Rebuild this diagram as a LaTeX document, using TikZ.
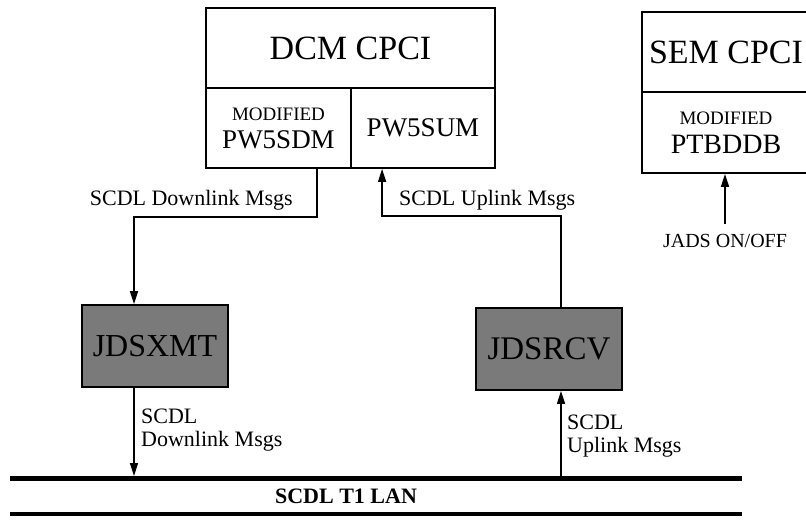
\documentclass[tikz,border=0pt]{standalone}
\usepackage{fontspec}
\setmainfont{Liberation Serif}
\usetikzlibrary{arrows.meta}
\newcommand{\fs}[1]{\fontsize{#1}{#1}\selectfont}
\begin{document}
\begin{tikzpicture}[x=1pt,y=-1pt,
  box/.style={draw,line width=1.8pt,rectangle,inner sep=0pt,align=center},
  grey/.style={box,fill=black!52},
  conn/.style={line width=1.4pt},
  arr/.style={conn,-{Triangle[length=13pt,width=8pt]}},
  bus/.style={line width=4.5pt},
  lbl/.style={inner sep=0pt,align=left}]
\useasboundingbox (0,0) rectangle (806,521);
% DCM CPCI
\node[box,minimum width=289pt,minimum height=80pt] (dcm) at (350.5,48) {\fs{34}DCM CPCI};
\node[box,minimum width=145pt,minimum height=80pt] (sdm) at (278.5,128)
  {{\fs{19}MODIFIED}\\[9pt]{\fs{27}PW5SDM}};
\node[box,minimum width=144pt,minimum height=80pt] (sum) at (423,128) {\fs{27}PW5SUM};
% SEM CPCI
\node[box,minimum width=168pt,minimum height=80pt] (sem) at (726,52) {\fs{34}SEM CPCI};
\node[box,minimum width=168pt,minimum height=81pt] (ptb) at (726,132.5)
  {{\fs{19}MODIFIED}\\[9pt]{\fs{28}PTBDDB}};
\node[lbl] (jads) at (725,241) {\fs{20}JADS ON/OFF};
\draw[arr] (jads.north -| 725,0) ++(0,-10) coordinate (jadsT) (jadsT) -- (ptb.south -| jadsT);
% grey boxes
\node[grey,minimum width=146pt,minimum height=82pt] (xmt) at (155,346) {\fs{32}JDSXMT};
\node[grey,minimum width=146pt,minimum height=82pt] (rcv) at (549,349) {\fs{33}JDSRCV};
% bus
\coordinate (busL) at (10,476);
\coordinate (busR) at (742,476);
\draw[bus] (10,478.5) -- (742,478.5);
\draw[bus] (10,514) -- (742,514);
\node[lbl,font=\bfseries] (lan) at (346,496) {\fs{22}SCDL T1 LAN};
% connectors
\draw[arr] ([xshift=-35pt]sdm.south east) -- ++(0,48) -| ([xshift=-21pt]xmt.north);
\draw[arr] ([xshift=12pt]rcv.north) -- ++(0,-91) -| ([xshift=32pt]sum.south west);
\draw[arr] ([xshift=-21pt]xmt.south) -- ([xshift=-21pt]xmt.south |- busL);
\draw[arr] ([xshift=12pt]rcv.south |- busL) -- ([xshift=12pt]rcv.south);
% labels
\node[lbl,anchor=east] (dl1) at (293,200) {\fs{22}SCDL Downlink Msgs};
\node[lbl,anchor=west] (ul1) at (399,200) {\fs{22}SCDL Uplink Msgs};
\node[lbl,anchor=west] (dl2) at (141,430) {\fs{22}SCDL\\[6pt]\fs{22}Downlink Msgs};
\node[lbl,anchor=west] (ul2) at (567,436) {\fs{22}SCDL\\[6pt]\fs{22}Uplink Msgs};
\end{tikzpicture}
\end{document}
